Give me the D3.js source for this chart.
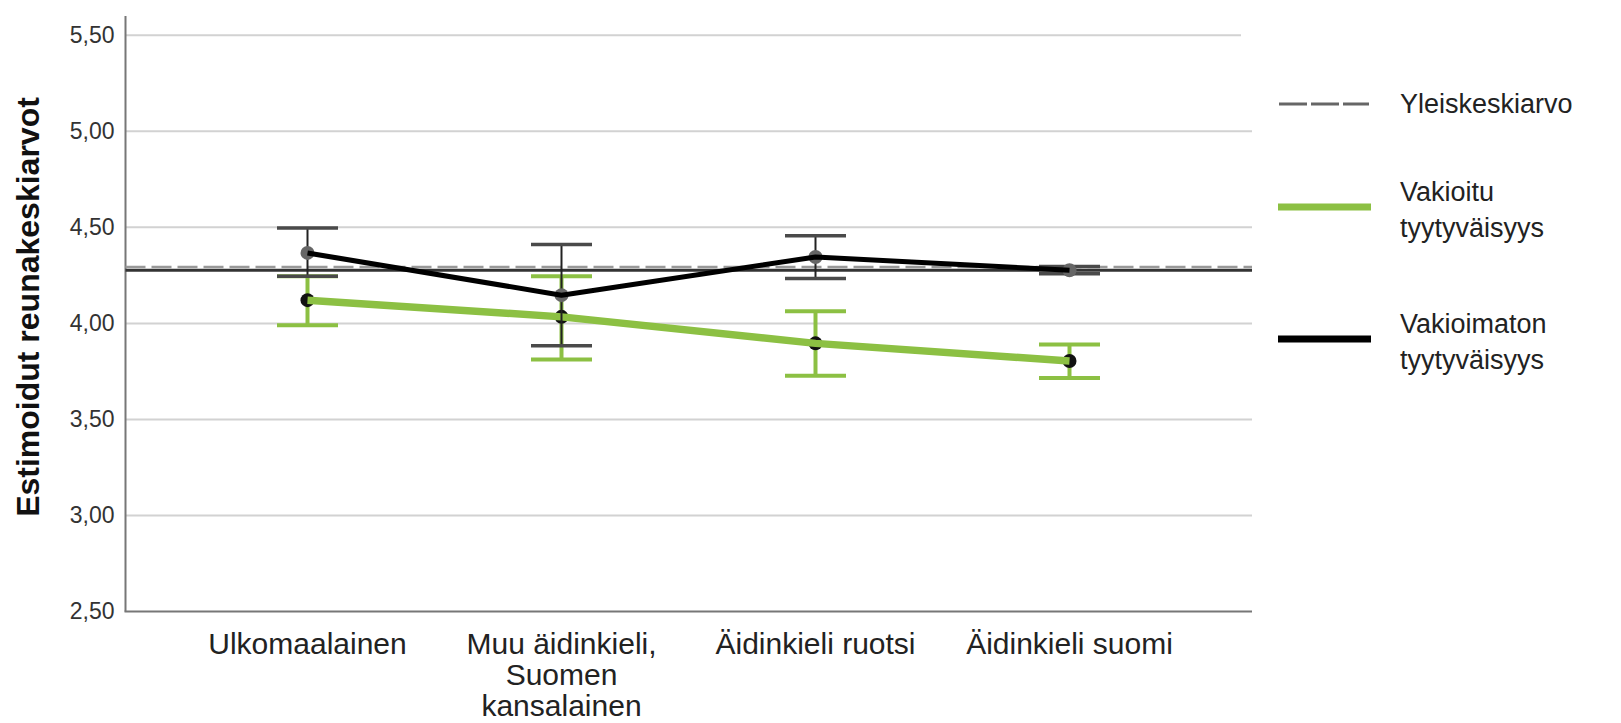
<!DOCTYPE html>
<html><head><meta charset="utf-8">
<script src="https://cdn.jsdelivr.net/npm/d3@7/dist/d3.min.js"></script>
<style>html,body{margin:0;padding:0;background:#fff;}svg{display:block;font-family:"Liberation Sans",Arial,sans-serif;}</style>
</head><body>
<svg id="chart" width="1621" height="723"></svg>
<script>
const categories = [["Ulkomaalainen"], ["Muu äidinkieli,", "Suomen", "kansalainen"], ["Äidinkieli ruotsi"], ["Äidinkieli suomi"]];
const catKeys = ["Ulkomaalainen", "Muu äidinkieli, Suomen kansalainen", "Äidinkieli ruotsi", "Äidinkieli suomi"];
const unadjMean = [4.367, 4.147, 4.346, 4.277];
const unadjLow  = [4.246, 3.883, 4.234, 4.258];
const unadjHigh = [4.497, 4.411, 4.456, 4.296];
const adjMean = [4.121, 4.034, 3.896, 3.804];
const adjLow  = [3.991, 3.812, 3.727, 3.716];
const adjHigh = [4.246, 4.246, 4.063, 3.890];
const grandMeanDashed = 4.293;
const grandMeanSolid = 4.277;
const yTicks = [2.5, 3.0, 3.5, 4.0, 4.5, 5.0, 5.5];
const legendLabels = [["Yleiskeskiarvo"], ["Vakioitu", "tyytyväisyys"], ["Vakioimaton", "tyytyväisyys"]];
const yTitle = "Estimoidut reunakeskiarvot";

const svg = d3.select("#chart");
const GREEN = "#8cc043";
const left = 125.5, right = 1252, bottomY = 611.5;
const y = d3.scaleLinear().domain([2.5, 5.5]).range([611.5, 35.3]);
const x = d3.scalePoint().domain(catKeys).range([307.5, 1069.5]);
const fmt = v => d3.format(".2f")(v).replace(".", ",");

// gridlines
svg.append("g").selectAll("line").data(yTicks.filter(t => t > 2.5)).join("line")
  .attr("x1", left).attr("x2", d => d === 5.5 ? 1241 : right)
  .attr("y1", d => y(d)).attr("y2", d => y(d))
  .attr("stroke", "#d2d2d2").attr("stroke-width", 2);

// y axis via d3
const yAxis = d3.axisLeft(y).tickValues(yTicks).tickFormat(fmt).tickSize(0).tickPadding(11);
const gy = svg.append("g").attr("transform", `translate(${left},0)`).call(yAxis);
gy.select(".domain").remove();
gy.selectAll("text").attr("font-size", 23).attr("fill", "#333").attr("font-family", "Liberation Sans, Arial, sans-serif");

// axis lines
svg.append("line").attr("x1", left).attr("x2", left).attr("y1", y(5.6)).attr("y2", bottomY)
  .attr("stroke", "#777").attr("stroke-width", 2);
svg.append("line").attr("x1", left - 1).attr("x2", right).attr("y1", bottomY).attr("y2", bottomY)
  .attr("stroke", "#777").attr("stroke-width", 2);

// x labels
const xl = svg.append("g").selectAll("text").data(categories).join("text")
  .attr("x", (d, i) => x(catKeys[i])).attr("y", 654)
  .attr("text-anchor", "middle").attr("font-size", 30).attr("fill", "#222");
xl.each(function(d) {
  const t = d3.select(this);
  d.forEach((line, j) => {
    t.append("tspan").attr("x", t.attr("x")).attr("dy", j === 0 ? 0 : 31).text(line);
  });
});

// y title
svg.append("text").attr("transform", "translate(39,307) rotate(-90)")
  .attr("text-anchor", "middle").attr("font-size", 32).attr("font-weight", "bold").attr("fill", "#111")
  .text(yTitle);

// reference lines
svg.append("line").attr("x1", left).attr("x2", right).attr("y1", y(grandMeanSolid)).attr("y2", y(grandMeanSolid))
  .attr("stroke", "#333").attr("stroke-width", 3);
svg.append("line").attr("x1", left).attr("x2", right).attr("y1", y(grandMeanDashed)).attr("y2", y(grandMeanDashed))
  .attr("stroke", "#999").attr("stroke-width", 2.5).attr("stroke-dasharray", "20,6");

const capW = 30.5;
function errorBars(means, lows, highs, color, capColor, vw, cw) {
  const g = svg.append("g");
  g.selectAll(".v").data(means).join("line")
    .attr("x1", (d, i) => x(catKeys[i])).attr("x2", (d, i) => x(catKeys[i]))
    .attr("y1", (d, i) => y(lows[i])).attr("y2", (d, i) => y(highs[i]))
    .attr("stroke", color).attr("stroke-width", vw);
  [lows, highs].forEach(arr => {
    g.selectAll(null).data(arr).join("line")
      .attr("x1", (d, i) => x(catKeys[i]) - capW).attr("x2", (d, i) => x(catKeys[i]) + capW)
      .attr("y1", d => y(d)).attr("y2", d => y(d))
      .attr("stroke", capColor).attr("stroke-width", cw);
  });
}
function series(means, color, w, markerFill) {
  const g = svg.append("g");
  g.selectAll("circle").data(means).join("circle")
    .attr("cx", (d, i) => x(catKeys[i])).attr("cy", d => y(d)).attr("r", 7)
    .attr("fill", markerFill);
  g.append("path").datum(means)
    .attr("d", d3.line().x((d, i) => x(catKeys[i])).y(d => y(d)))
    .attr("fill", "none").attr("stroke", color).attr("stroke-width", w).attr("stroke-linejoin", "round");
}

errorBars(adjMean, adjLow, adjHigh, GREEN, GREEN, 4, 4);
series(adjMean, GREEN, 7.5, "#111");
errorBars(unadjMean, unadjLow, unadjHigh, "#222", "#4a4a4a", 2, 3.5);
series(unadjMean, "#000", 5, "#666");

// legend
const leg = svg.append("g");
const legY = [104, 207, 339];
const legTextY = [[113], [201, 237], [333, 369]];
leg.append("line").attr("x1", 1279).attr("x2", 1369).attr("y1", legY[0]).attr("y2", legY[0])
  .attr("stroke", "#666").attr("stroke-width", 3).attr("stroke-dasharray", "28,4");
leg.append("line").attr("x1", 1278).attr("x2", 1371).attr("y1", legY[1]).attr("y2", legY[1])
  .attr("stroke", GREEN).attr("stroke-width", 7);
leg.append("line").attr("x1", 1278).attr("x2", 1371).attr("y1", legY[2]).attr("y2", legY[2])
  .attr("stroke", "#000").attr("stroke-width", 7);
legendLabels.forEach((lines, i) => {
  lines.forEach((line, j) => {
    leg.append("text").attr("x", 1400).attr("y", legTextY[i][j]).attr("font-size", 27).attr("fill", "#222").text(line);
  });
});
</script>
</body></html>
